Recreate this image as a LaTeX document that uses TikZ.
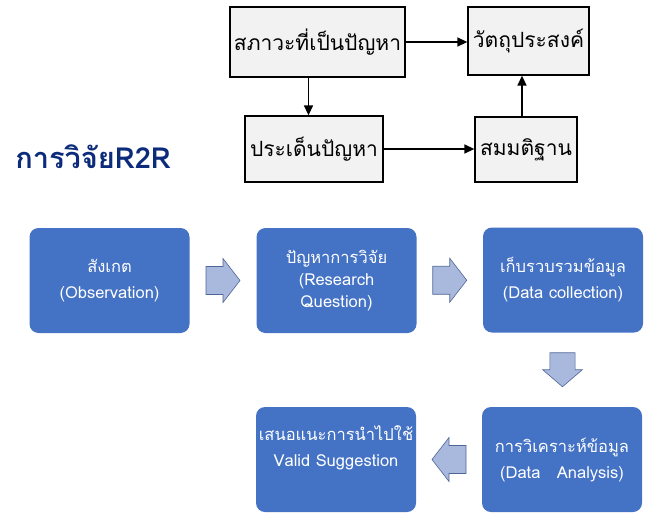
\documentclass[tikz,border=0pt]{standalone}
\usepackage{fontspec}
\setmainfont[Script=Thai]{Loma}
\usetikzlibrary{arrows.meta,calc}

\definecolor{stepblue}{HTML}{4472C4}
\definecolor{arrowfill}{HTML}{A9B9DE}
\definecolor{arrowline}{HTML}{4F6596}
\definecolor{titleblue}{HTML}{0C2B7A}
\definecolor{boxgray}{HTML}{F2F2F2}

\tikzset{
  topbox/.style={draw, line width=1.3pt, fill=boxgray, inner sep=0pt,
    font=\fontsize{21}{24}\selectfont},
  stepbox/.style={fill=stepblue, rounded corners=9pt, text=white,
    minimum width=160pt, minimum height=105pt, inner sep=0pt,
    align=center, font=\fontsize{16.5}{26}\selectfont},
  conn/.style={line width=1.4pt, -{Triangle[length=10pt,width=9pt]}},
  blockarr/.style={draw=arrowline, fill=arrowfill, line width=0.6pt},
}

\begin{document}
\begin{tikzpicture}[x=1pt, y=-1pt]
  \useasboundingbox (0,0) rectangle (648,514);

  %% Title
  \node[text=titleblue, font=\fontsize{29}{32}\selectfont\bfseries] (r2r) at (93,157) {การวิจัยR2R};

  %% Upper chart
  \node[topbox, minimum width=175pt, minimum height=70pt] (prob) at (317.5,42) {สภาวะที่เป็นปัญหา};
  \node[topbox, minimum width=121pt, minimum height=68pt] (obj) at (528.5,41) {วัตถุประสงค์};
  \node[topbox, minimum width=138pt, minimum height=66pt] (issue) at (314,149) {ประเด็นปัญหา};
  \node[topbox, minimum width=102pt, minimum height=65pt] (hyp) at (526,149.5) {สมมติฐาน};

  \draw[conn] (prob.east) -- (prob.east -| obj.west);
  \draw[conn] ([xshift=-9pt]prob.south) -- ([xshift=-9pt]prob.south |- issue.north);
  \draw[conn] (issue.east) -- (issue.east -| hyp.west);
  \draw[conn] ([xshift=-4pt]hyp.north) -- ([xshift=-4pt]hyp.north |- obj.south);

  %% Research steps
  \node[stepbox] (obs) at (109.5,280.5) {สังเกต\\(Observation)};
  \node[stepbox, font=\fontsize{16.5}{22}\selectfont] (rq) at (336.5,280.5) {ปัญหาการวิจัย\\(Research\\Question)};
  \node[stepbox] (coll) at (563,280) {เก็บรวบรวมข้อมูล\\(Data collection)};
  \node[stepbox] (anal) at (562,459.5) {การวิเคราะห์ข้อมูล\\(Data\quad Analysis)};
  \node[stepbox] (sugg) at (336,459.5) {เสนอแนะการนำไปใช้\\Valid Suggestion\\\mbox{}};

  %% Block arrows between the steps
  \foreach \from/\to/\ang/\wd in {obs/rq/0/1, rq/coll/0/1, coll/anal/-90/0.9, anal/sugg/180/1} {
    \draw[blockarr, shift={($(\from)!0.5!(\to)$)}, rotate=\ang, yscale=\wd]
      (-17,-14) -- (0,-14) -- (0,-22) -- (17,0) -- (0,22) -- (0,14) -- (-17,14) -- cycle;
  }
\end{tikzpicture}
\end{document}
